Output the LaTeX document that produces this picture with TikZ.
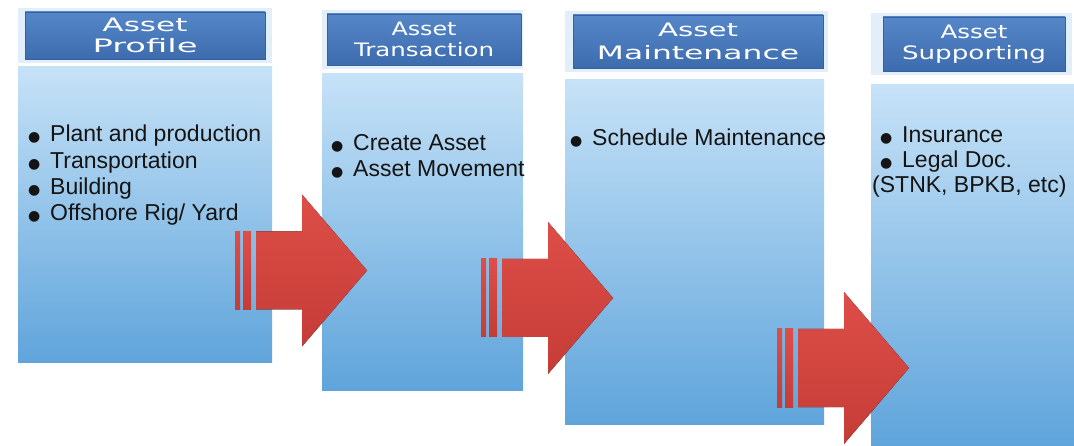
\documentclass[tikz,border=0pt]{standalone}
\usepackage{fontspec, graphicx, xcolor}
\usetikzlibrary{backgrounds}

\setmainfont{Liberation Sans}
\newfontfamily\headfont{DejaVu Sans}

\definecolor{headTop}{HTML}{5587C8}
\definecolor{headBot}{HTML}{3D6CAE}
\definecolor{headLine}{HTML}{36609F}
\definecolor{bodyTop}{HTML}{C6E2F7}
\definecolor{bodyBot}{HTML}{5FA4DB}
\definecolor{haloBlue}{HTML}{E2EFFA}
\definecolor{arrowTop}{HTML}{DE4E48}
\definecolor{arrowBot}{HTML}{C53C37}
\definecolor{listText}{HTML}{141414}

\begin{document}
\begin{tikzpicture}[%
    x=1pt, y=-1pt,              % one unit = one pixel of the slide, y downwards
    ]

\def\bul{\makebox[22pt][l]{\headfont\fontsize{14}{14}\selectfont ●}}
\def\wide#1#2{\resizebox{#1}{\height}{#2}}
\def\redarrow#1{%
  \begin{scope}[shift={#1}]
    \fill[redArrow] (0,-39) rectangle (5,39);
    \fill[redArrow] (8,-39) rectangle (16,39);
    \fill[redArrow] (21,-39) -- (67,-39) -- (67,-76) -- (132,0)
                    -- (67,76) -- (67,39) -- (21,39) -- cycle;
  \end{scope}}

\tikzset{
  boxHead/.style={draw=headLine, top color=headTop, bottom color=headBot, inner sep=0pt,
                  text=white, align=center, font=\headfont\fontsize{18.5}{21}\selectfont},
  boxBody/.style={top color=bodyTop, bottom color=bodyBot, inner sep=0pt},
  bulletList/.style={anchor=north west, align=left, inner sep=0pt, text=listText,
                     font=\fontsize{23}{26.3}\selectfont},
  halo/.style={fill=haloBlue},
  redArrow/.style={top color=arrowTop, bottom color=arrowBot}
  };

\useasboundingbox (0,0) rectangle (1074,446);

% Bodies
\node[boxBody, minimum width=254, minimum height=296] (profileBody) at (145,215) {};
\node[boxBody, minimum width=201, minimum height=316] (transBody) at (422.5,232) {};
\node[boxBody, minimum width=259, minimum height=344] (maintBody) at (694.5,252) {};
\node[boxBody, minimum width=203, minimum height=361] (supportBody) at (972.5,265.5) {};

% Headers
\node[boxHead, minimum width=240, minimum height=47] (profileHead) at (145,35.5)
    { \wide{85pt}{Asset}\\\wide{105pt}{Profile} };
\node[boxHead, minimum width=194, minimum height=51] (transHead) at (424,39.5)
    { \wide{65pt}{Asset}\\\wide{140pt}{Transaction} };
\node[boxHead, minimum width=250, minimum height=53,
      font=\headfont\fontsize{18.5}{23}\selectfont] (maintHead) at (698,41.5)
    { \wide{80pt}{Asset}\\\wide{202pt}{Maintenance} };
\node[boxHead, minimum width=182, minimum height=54] (supportHead) at (974,44)
    { \wide{67pt}{Asset}\\\wide{144pt}{Supporting} };

\begin{scope}[on background layer]
  \fill[halo] ([yshift=4pt]profileBody.west |- profileHead.north)
      rectangle ([yshift=-4pt]profileBody.east |- profileHead.south);
  \fill[halo] ([yshift=4pt]transBody.west |- transHead.north)
      rectangle ([yshift=-4pt]transBody.east |- transHead.south);
  \fill[halo] ([yshift=4pt]maintBody.west |- maintHead.north)
      rectangle ([yshift=-4pt,xshift=4pt]maintBody.east |- maintHead.south);
  \fill[halo] ([yshift=4pt]supportBody.west |- supportHead.north)
      rectangle ([yshift=-4pt,xshift=-2pt]supportBody.east |- supportHead.south);
\end{scope}

% Lists
\node[bulletList] (profileList) at (28,125)
    { \bul Plant and production\\ \bul Transportation\\ \bul Building\\ \bul Offshore Rig/ Yard };
\node[bulletList] (transList) at (331,134)
    { \bul Create Asset\\ \bul Asset Movement };
\node[bulletList] (maintList) at (570,129)
    { \bul Schedule Maintenance };
\node[bulletList, font=\fontsize{23}{25}\selectfont] (supportList) at (872,126)
    { \hspace*{8pt}\bul Insurance\\ \hspace*{8pt}\bul Legal Doc.\\ (STNK, BPKB, etc) };

% Arrows
\redarrow{(235,270.5)}
\redarrow{(481,298)}
\redarrow{(777,368)}

\end{tikzpicture}
\end{document}
